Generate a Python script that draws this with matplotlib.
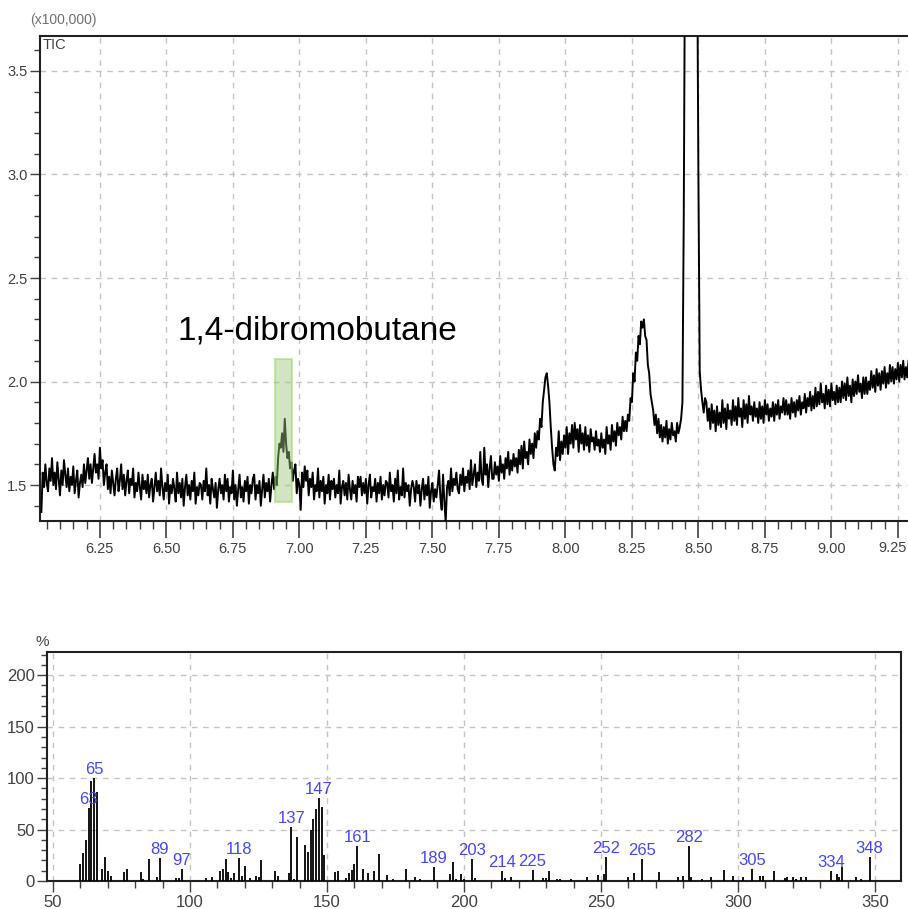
import numpy as np
import matplotlib
matplotlib.use("Agg")
import matplotlib.pyplot as plt
from matplotlib.ticker import MultipleLocator, FixedLocator
from matplotlib.patches import Rectangle

# --- TIC chromatogram (x100,000 counts /100), one reading every 0.005 min from 6.03 ---
tic_start = 6.03
tic_step = 0.005
tic_early = [137,156,149,160,151,147,158,152,163,150,156,148,161,153,145,157,150,162,155,149,  # 6.03
             158,147,154,150,159,146,152,157,144,151,155,149,160,151,157,163,153,160,151,158,  # 6.13
             165,156,160,153,168,158,162,150,156,160,148,154,146,157,151,145,153,158,147,152,  # 6.23
             160,148,155,145,152,157,146,153,150,158,144,151,147,156,149,143,155,148,152,146,  # 6.33
             155,144,150,153,142,149,156,147,152,145,158,149,143,151,147,155,141,150,146,153,  # 6.43
             148,142,156,146,151,144,153,140,149,155,145,150,143,152,147,156,141,149,145,151,  # 6.53
             150,143,152,147,158,145,150,141,153,148,144,151,139,148,153,146,150,143,155,147,  # 6.63
             153,142,149,146,157,143,150,140,148,155,144,149,142,152,147,154,141,150,146,153,  # 6.73
             155,143,150,146,152,140,148,155,144,151,147,153,142,150,156,148,154,150,163,170]  # 6.83
tic_dbb = [168,175,166,182,170,163,166,158,161,152,157,160,146,153,150,138,156,149,159,152]  # 6.93
tic_mid = [157,145,153,149,156,143,150,147,158,144,152,147,154,141,150,146,155,143,152,148,  # 7.03
           153,144,150,146,157,141,149,152,145,151,143,155,148,143,152,146,150,142,154,149,  # 7.13
           154,145,151,146,153,141,150,155,144,149,147,153,142,151,146,154,143,150,145,152,  # 7.23
           151,144,156,147,150,142,153,146,157,143,149,145,158,144,151,147,150,140,148,152,  # 7.33
           149,142,152,146,150,140,148,153,143,150,145,154,139,147,151,142,148,144,150,157,  # 7.43
           144,138,155,142,132,149,152,145,158,147,153,150,156,148,146,155,150,158,147,154,  # 7.53
           151,157,148,162,150,155,160,149,156,152,166,153,150,168,155,160,149,158,164,153,  # 7.63
           153,161,155,159,152,164,156,160,153,163,158,166,155,162,157,165,159,163,156,167]  # 7.73
tic_peaks = [160,169,158,171,163,166,160,172,165,170,163,175,168,176,172,182,178,190,196,202,  # 7.83
             204,198,190,178,168,160,157,168,164,176,162,171,165,174,168,178,165,175,170,179,  # 7.93
             168,180,172,177,166,179,170,175,167,178,169,174,166,177,171,173,167,176,169,172,  # 8.03
             166,175,168,172,165,178,170,174,167,179,171,176,169,180,174,178,172,183,176,181,  # 8.13
             176,184,181,192,190,204,200,214,210,222,218,229,226,230,222,220,208,204,194,190,  # 8.23
             186,179,184,175,182,173,179,171,178,173,181,170,177,172,180,174,176,171,180,175,  # 8.33
             178,182,190,280,420,420,420,420,420,420,420,420,420,420,300,205,196,190,185,192]  # 8.43
tic_late = [190,181,187,177,189,180,186,176,188,179,185,178,191,180,187,177,189,182,186,179,  # 8.53
            191,181,188,179,192,183,187,178,191,182,189,180,193,184,188,181,190,183,187,180,  # 8.63
            190,182,188,180,191,184,189,181,187,183,190,181,189,184,191,182,188,185,192,184,  # 8.73
            191,184,189,182,192,185,190,183,191,186,193,184,190,187,194,185,192,188,195,186,  # 8.83
            193,187,197,188,195,189,199,190,194,187,198,189,196,188,199,191,195,189,198,190,  # 8.93
            197,190,200,192,199,191,202,193,198,190,201,193,200,194,203,195,199,192,202,194,  # 9.03
            202,194,200,196,205,197,203,195,206,198,204,196,205,199,207,197,204,199,208,200,  # 9.13
            207,199,206,201,209,200,208,202,210,201,207,202,210]                             # 9.23

# highlighted peak window (min) and its intensity span
dbb_window = (6.91, 6.972)
dbb_span = (1.418, 2.109)

# --- mass spectrum ---
ms_mz = [60, 61, 62, 63, 64, 65, 66, 68, 69, 70, 71, 76, 77, 82, 83, 85, 88, 89,
         95, 96, 97, 106, 108, 111, 112, 113, 114, 115, 116, 118, 119, 120, 122,
         124, 125, 126, 131, 132, 136, 137, 138, 139, 142, 143, 144, 145, 146,
         147, 148, 149, 153, 154, 157, 158, 159, 160, 161, 163, 165, 167, 169,
         172, 174, 179, 182, 184, 189, 195, 196, 197, 199, 200, 203, 204, 214,
         215, 217, 225, 229, 230, 231, 234, 235, 239, 245, 249, 251, 252, 260,
         262, 265, 271, 278, 280, 282, 283, 287, 290, 295, 298, 302, 305, 308,
         309, 313, 317, 318, 320, 321, 323, 325, 334, 336, 337, 338, 343, 345,
         348]
ms_int = [17, 27, 40, 71, 97, 100, 86, 12, 23, 10, 5, 9, 12, 9, 2, 21, 4, 22,
          3, 3, 12, 3, 4, 10, 12, 21, 9, 3, 8, 22, 5, 15, 3,
          5, 4, 20, 10, 5, 8, 52, 2, 43, 35, 28, 50, 60, 70,
          81, 72, 25, 9, 10, 3, 8, 11, 17, 34, 12, 8, 10, 26,
          6, 2, 12, 4, 2, 14, 7, 18, 2, 7, 2, 21, 3, 10,
          3, 4, 11, 3, 3, 10, 2, 2, 2, 4, 6, 7, 23, 4,
          8, 21, 9, 4, 5, 34, 4, 2, 4, 11, 5, 4, 12, 5,
          5, 10, 3, 4, 4, 2, 4, 4, 10, 7, 4, 14, 4, 2,
          23]
ms_labels = [63, 65, 89, 97, 118, 137, 147, 161, 189, 203, 214, 225, 252, 265,
             282, 305, 334, 348]

tick_font = 'Liberation Sans'
tick_color = '#404040'
grid_kw = dict(color='#c4c4c4', linestyle=(0, (4, 4)), linewidth=1.0)

fig = plt.figure(figsize=(9.08, 9.09), dpi=100)

# ---------------- top: TIC ----------------
ax = fig.add_axes([0.0441, 0.4268, 0.9559, 0.5336])
tic = np.array(tic_early + tic_dbb + tic_mid + tic_peaks + tic_late) / 100.0
t = tic_start + tic_step * np.arange(len(tic))
ax.plot(t, tic, color='black', lw=1.4, zorder=3)

ax.add_patch(Rectangle((dbb_window[0], dbb_span[0]), dbb_window[1] - dbb_window[0],
                       dbb_span[1] - dbb_span[0], facecolor='#9cc47a', alpha=0.45,
                       edgecolor='#8fd05a', lw=1.5, zorder=4))
ax.text(7.066, 2.244, '1,4-dibromobutane', fontsize=24, family='Liberation Sans',
        ha='center', va='center', color='black')

xmaj = [6.25, 6.5, 6.75, 7.0, 7.25, 7.5, 7.75, 8.0, 8.25, 8.5, 8.75, 9.0, 9.25]
ax.set_xlim(6.025, 9.288)
ax.set_ylim(1.326, 3.669)
ax.xaxis.set_major_locator(FixedLocator(xmaj))
ax.xaxis.set_minor_locator(MultipleLocator(0.05))
ax.yaxis.set_major_locator(MultipleLocator(0.5))
ax.yaxis.set_minor_locator(MultipleLocator(0.1))
# last label would run off the right edge, it is placed separately below
ax.set_xticklabels(['%.2f' % v for v in xmaj[:-1]] + [''])
ax.grid(True, which='major', **grid_kw)
ax.tick_params(axis='x', which='major', length=12, width=1.2, pad=3, colors=tick_color)
ax.tick_params(axis='x', which='minor', length=6, width=1.0, colors=tick_color)
ax.tick_params(axis='y', which='major', length=7, width=1.0, pad=2, colors=tick_color)
ax.tick_params(axis='y', which='minor', length=4, width=1.0, colors=tick_color)
for lab in ax.get_xticklabels() + ax.get_yticklabels():
    lab.set_family(tick_font)
    lab.set_fontsize(10.5)
ax.spines['right'].set_visible(False)
for s in ['top', 'left', 'bottom']:
    ax.spines[s].set_linewidth(1.5)
    ax.spines[s].set_color('#202020')
fig.text(0.999, 1 - 548 / 909, '%.2f' % xmaj[-1], ha='right', va='center',
         fontsize=10.5, family=tick_font, color=tick_color)
ax.text(0.003, 0.996, 'TIC', transform=ax.transAxes, ha='left', va='top',
        fontsize=10.5, family=tick_font, color=tick_color)
fig.text(0.033, 0.978, '(x100,000)', ha='left', va='center', fontsize=10,
         family=tick_font, color='#707070')

# ---------------- bottom: mass spectrum ----------------
bx = fig.add_axes([0.0518, 0.0308, 0.9405, 0.2519])
bx.vlines(ms_mz, 0, ms_int, color='black', lw=1.3, zorder=3)
for mz, val in zip(ms_mz, ms_int):
    if mz in ms_labels:
        bx.text(mz, val + 1, str(mz), ha='center', va='bottom', fontsize=12,
                family='Liberation Sans', color='#4747f0', zorder=4)

bx.set_xlim(47.8, 359.5)
bx.set_ylim(0, 222.5)
bx.xaxis.set_major_locator(MultipleLocator(50))
bx.xaxis.set_minor_locator(MultipleLocator(10))
bx.yaxis.set_major_locator(MultipleLocator(50))
bx.yaxis.set_minor_locator(MultipleLocator(10))
bx.grid(True, which='major', **grid_kw)
bx.tick_params(axis='x', which='major', length=8, width=1.0, pad=2, colors=tick_color)
bx.tick_params(axis='x', which='minor', length=5, width=1.0, colors=tick_color)
bx.tick_params(axis='y', which='major', length=7, width=1.0, pad=2, colors=tick_color)
bx.tick_params(axis='y', which='minor', length=4, width=1.0, colors=tick_color)
for lab in bx.get_xticklabels() + bx.get_yticklabels():
    lab.set_family(tick_font)
    lab.set_fontsize(12)
for s in bx.spines.values():
    s.set_linewidth(1.5)
    s.set_color('#202020')
fig.text(0.046, 0.294, '%', ha='center', va='center', fontsize=11,
         family=tick_font, color=tick_color)

fig.savefig('out.png', dpi=100)
